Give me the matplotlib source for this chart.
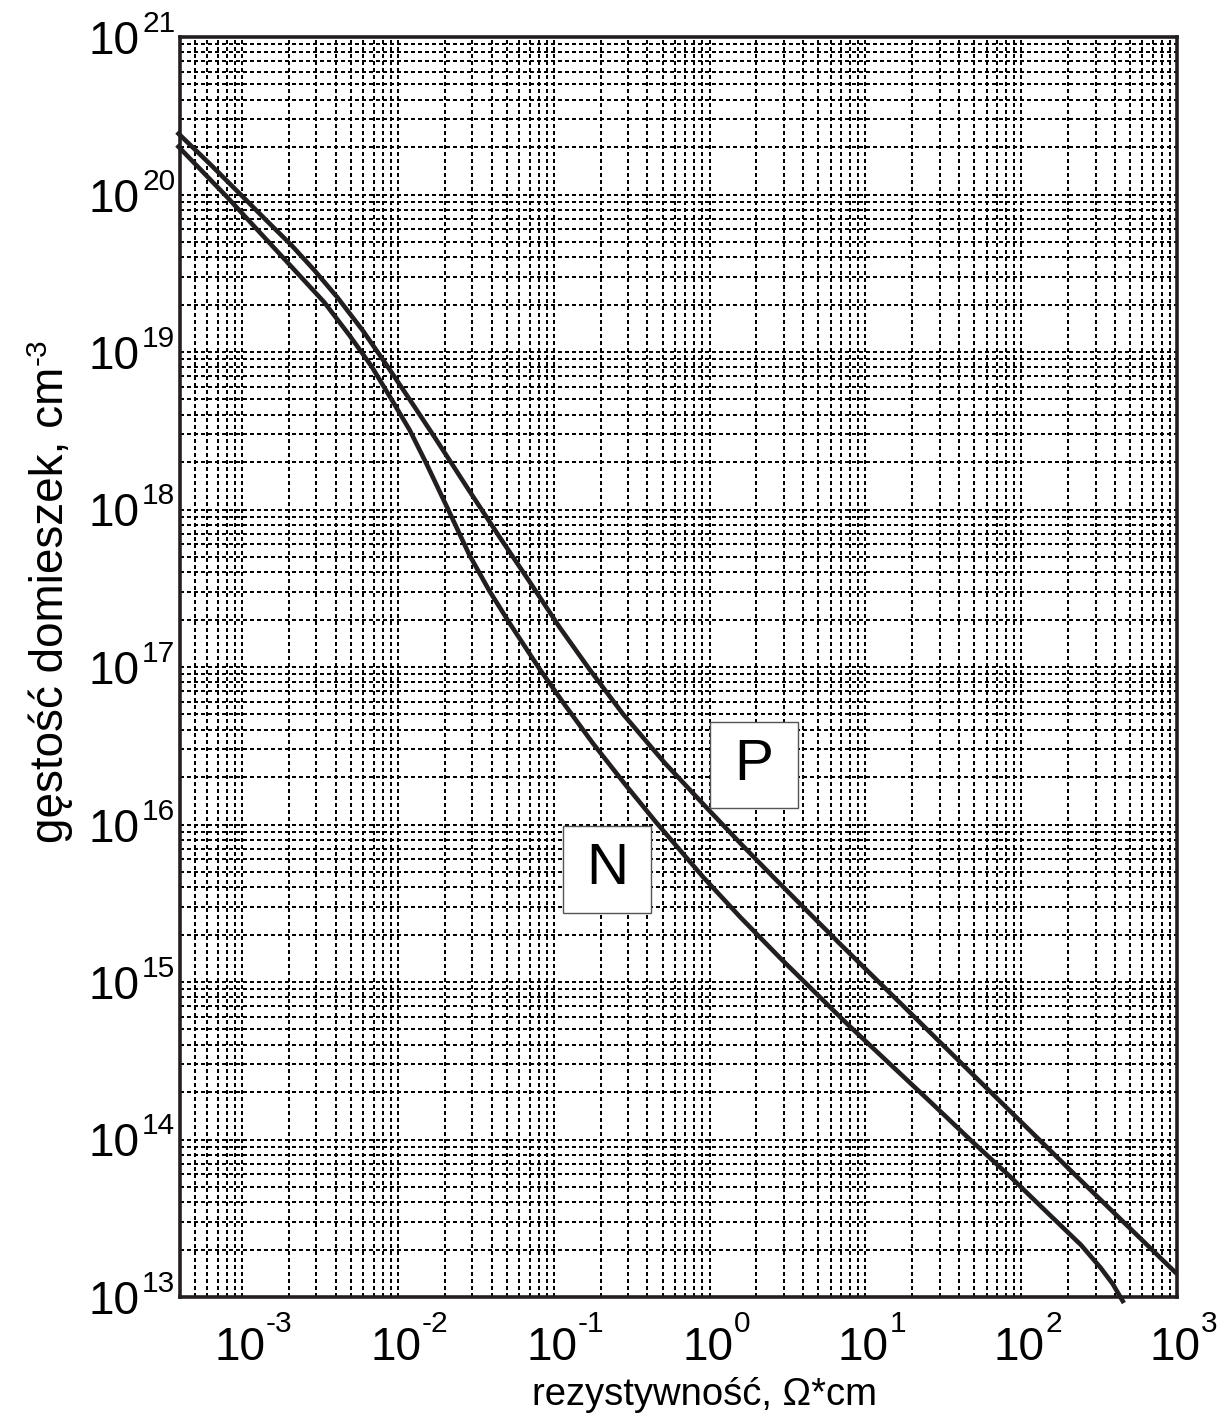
import numpy as np
import matplotlib
matplotlib.use("Agg")
import matplotlib.pyplot as plt
from matplotlib.ticker import LogLocator, NullFormatter
from matplotlib.patches import Rectangle

plt.rcParams['font.family'] = ['Liberation Sans', 'DejaVu Sans']

# ---- data ----
rho_P = [3.82e-4, 6.32e-4, 1.03e-3, 1.49e-3, 2.07e-3, 2.90e-3, 4.08e-3, 5.92e-3, 8.55e-3,
         1.22e-2, 1.77e-2, 2.88e-2, 4.50e-2, 7.02e-2, 0.109, 0.171, 0.278, 0.518, 0.964,
         1.57, 2.56, 6.90, 18.6, 70.6, 292, 1000]
N_P = [2.49e20, 1.54e20, 9.51e19, 6.59e19, 4.78e19, 3.32e19, 2.23e19, 1.38e19, 8.15e18,
       4.82e18, 2.76e18, 1.31e18, 6.68e17, 3.47e17, 1.79e17, 9.57e16, 5.04e16, 2.45e16,
       1.27e16, 7.64e15, 4.65e15, 1.74e15, 6.64e14, 1.81e14, 4.57e13, 1.40e13]

rho_N = [3.82e-4, 8.02e-4, 1.61e-3, 3.37e-3, 4.88e-3, 6.76e-3, 9.23e-3, 1.19e-2, 1.52e-2,
         2.11e-2, 2.88e-2, 3.87e-2, 5.21e-2, 8.13e-2, 0.118, 0.178, 0.286, 0.459, 0.908,
         1.57, 2.84, 7.66, 26.2, 47.3, 85.5, 155, 242, 324, 387, 456]
N_N = [2.06e20, 9.64e19, 4.57e19, 2.07e19, 1.28e19, 8.15e18, 4.89e18, 3.20e18, 1.97e18,
       9.93e17, 5.14e17, 3.04e17, 1.90e17, 9.70e16, 5.74e16, 3.29e16, 1.81e16, 1.02e16,
       4.65e15, 2.59e15, 1.42e15, 5.41e14, 1.73e14, 9.93e13, 5.78e13, 3.27e13, 2.14e13,
       1.53e13, 1.21e13, 9.16e12]

x_exponents = [-3, -2, -1, 0, 1, 2, 3]
y_exponents = [13, 14, 15, 16, 17, 18, 19, 20, 21]
xlabel = "rezystywność, Ω*cm"
ylabel_main = "gęstość domieszek, cm"
ylabel_sup = "-3"
curve_labels = ["P", "N"]

# ---- figure ----
W, H = 1226, 1421
fig = plt.figure(figsize=(W / 100, H / 100), dpi=100)
L, R, T, B = 180, 1177, 37, 1297
ax = fig.add_axes([L / W, 1 - B / H, (R - L) / W, (B - T) / H])
ax.set_xscale('log')
ax.set_yscale('log')
ax.set_xlim(4e-4, 1e3)
ax.set_ylim(1e13, 1e21)

ink = '#231f20'
for ax_ in (ax.xaxis, ax.yaxis):
    ax_.set_major_locator(LogLocator(base=10, numticks=30))
    ax_.set_minor_locator(LogLocator(base=10, subs=np.arange(2, 10), numticks=300))
    ax_.set_minor_formatter(NullFormatter())
ax.tick_params(which='both', length=0, labelbottom=False, labelleft=False)
ax.grid(True, which='both', color='black', linewidth=1.5,
        linestyle=(0, (1.5, 1.5)), antialiased=False)
ax.set_axisbelow(True)
for s in ax.spines.values():
    s.set_linewidth(2.6)
    s.set_color(ink)
    s.set_zorder(5)

ax.plot(rho_P, N_P, color=ink, lw=3.3, clip_on=False, zorder=4,
        solid_capstyle='butt', solid_joinstyle='round')
ax.plot(rho_N, N_N, color=ink, lw=3.3, clip_on=False, zorder=4,
        solid_capstyle='butt', solid_joinstyle='round')

# ---- tick labels ----
px = 0.72  # points per pixel
xt = ax.get_xaxis_transform()
for e in x_exponents:
    ax.annotate("10", xy=(10.0 ** e, 0), xycoords=xt, xytext=(-2 * px, -63 * px),
                textcoords='offset points', ha='center', va='baseline', fontsize=33,
                annotation_clip=False)
    ax.annotate(f"{e}", xy=(10.0 ** e, 0), xycoords=xt, xytext=(24 * px, -35 * px),
                textcoords='offset points', ha='left', va='baseline', fontsize=21.5,
                annotation_clip=False)
yt = ax.get_yaxis_transform()
for e in y_exponents:
    ax.annotate("10", xy=(0, 10.0 ** e), xycoords=yt, xytext=(-40 * px, -17 * px),
                textcoords='offset points', ha='right', va='baseline', fontsize=33,
                annotation_clip=False)
    ax.annotate(f"{e}", xy=(0, 10.0 ** e), xycoords=yt, xytext=(-38 * px, 5 * px),
                textcoords='offset points', ha='left', va='baseline', fontsize=21.5,
                annotation_clip=False)

# ---- axis titles ----
fig.text(705 / W, 1 - 1405 / H, xlabel, ha='center', va='baseline', fontsize=27.5)
yl = fig.text(63 / W, 1 - 843 / H, ylabel_main, ha='left', va='baseline', fontsize=33,
              rotation=90, rotation_mode='anchor')
fig.canvas.draw()
bb = yl.get_window_extent(fig.canvas.get_renderer())
fig.text(46 / W, (bb.y1 + 2) / H, ylabel_sup, ha='left', va='baseline', fontsize=21.5,
         rotation=90, rotation_mode='anchor')

# ---- P / N boxes ----
boxes = [(710, 722, 88, 86), (563, 826, 88, 87)]
for lab, (bx, by, bw, bh) in zip(curve_labels, boxes):
    x0 = (bx - L) / (R - L)
    y0 = (B - (by + bh)) / (B - T)
    w = bw / (R - L)
    h = bh / (B - T)
    ax.add_patch(Rectangle((x0, y0), w, h, transform=ax.transAxes, facecolor='white',
                           edgecolor='#555555', lw=1.0, zorder=6))
    ax.text(x0 + w / 2, y0 + h / 2, lab, transform=ax.transAxes, ha='center',
            va='center', fontsize=42, zorder=7)

fig.savefig('out.png', dpi=100)
